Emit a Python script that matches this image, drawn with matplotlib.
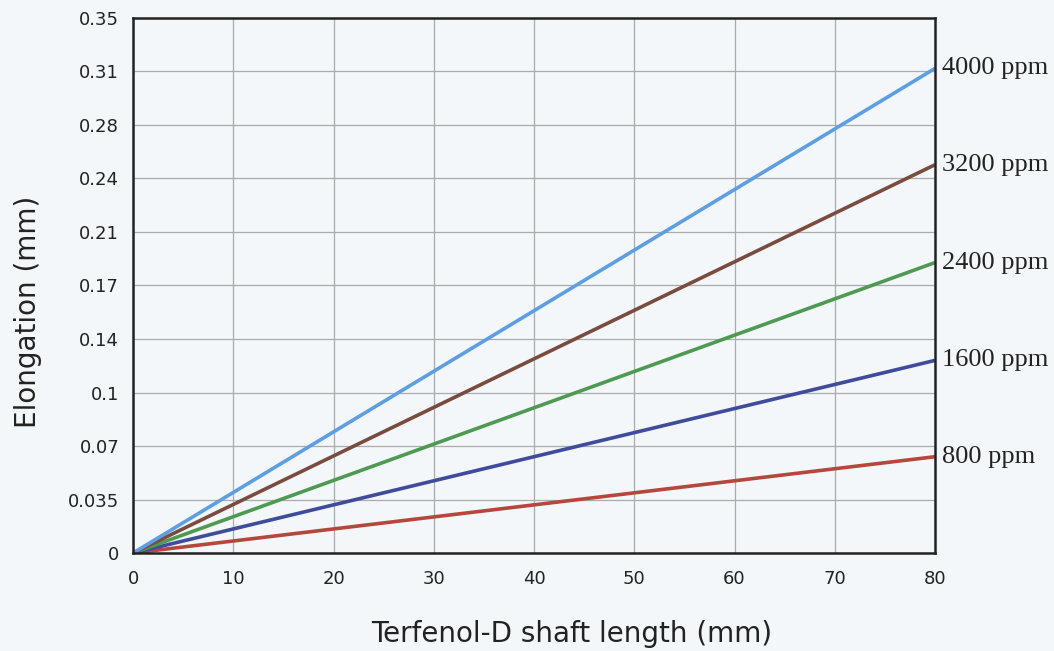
import matplotlib.pyplot as plt

# shaft length [mm] and elongation [mm] at each end of the line
shaft_length = [0, 80]
elong_800 = [0, 0.063]
elong_1600 = [0, 0.126]
elong_2400 = [0, 0.190]
elong_3200 = [0, 0.254]
elong_4000 = [0, 0.317]

series = [
    ("800 ppm", elong_800, "#b5473c"),
    ("1600 ppm", elong_1600, "#3f4c9c"),
    ("2400 ppm", elong_2400, "#4f9a52"),
    ("3200 ppm", elong_3200, "#7a4c40"),
    ("4000 ppm", elong_4000, "#5d9fe2"),
]

y_ticks = [0, 0.035, 0.07, 0.105, 0.14, 0.175, 0.21, 0.245, 0.28, 0.315, 0.35]
y_labels = ["0", "0.035", "0.07", "0.1", "0.14", "0.17", "0.21", "0.24", "0.28", "0.31", "0.35"]
x_ticks = [0, 10, 20, 30, 40, 50, 60, 70, 80]

bg = "#f3f7fa"
fig = plt.figure(figsize=(10.54, 6.51), dpi=100, facecolor=bg)
ax = fig.add_axes([0.1262, 0.1505, 0.7609, 0.8219])
ax.set_facecolor(bg)

for label, vals, color in series:
    ax.plot(shaft_length, vals, color=color, lw=2.6, solid_capstyle="butt")
    ax.annotate(label, xy=(shaft_length[-1], vals[-1]), xytext=(5, 0),
                textcoords="offset points", va="center", ha="left",
                fontsize=19, family="Liberation Serif", color="#222222",
                annotation_clip=False)

ax.set_xlim(0, 80)
ax.set_ylim(0, 0.35)
ax.set_xticks(x_ticks)
ax.set_yticks(y_ticks)
ax.set_yticklabels(y_labels)
ax.grid(True, color="#ababab", lw=0.9)
ax.set_axisbelow(True)
ax.tick_params(length=0, labelsize=13, colors="#222222", pad=10)
ax.tick_params(axis="x", pad=12)
for s in ax.spines.values():
    s.set_color("#222222")
    s.set_linewidth(1.8)

ax.set_xlabel("Terfenol-D shaft length (mm)", fontsize=20, color="#222222")
ax.set_ylabel("Elongation (mm)", fontsize=20, color="#222222")
ax.xaxis.set_label_coords(0.547, -0.125)
ax.yaxis.set_label_coords(-0.113, 0.45)

fig.savefig("out.png", dpi=100, facecolor=bg)
